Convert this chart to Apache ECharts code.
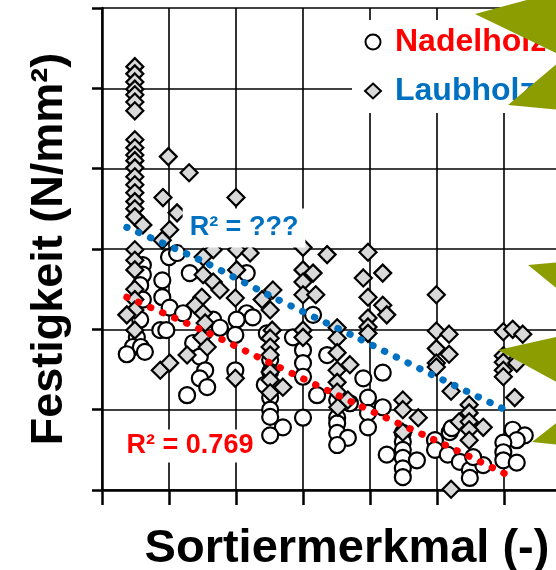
<!DOCTYPE html>
<html>
<head>
<meta charset="utf-8">
<script src="https://cdn.jsdelivr.net/npm/echarts@6/dist/echarts.min.js"></script>
<style>html,body{margin:0;padding:0;background:#fff;}#c{width:556px;height:570px;}</style>
</head>
<body>
<div id="c"></div>
<script>
// Nadelholz (circles) [Sortiermerkmal, Festigkeit]
const nadelholz = [
 [0.61,28.0],[0.61,26.8],[0.57,25.5],[0.61,23.7],[0.57,21.2],[0.52,19.0],[0.46,17.8],[0.58,17.8],[0.37,16.9],[0.64,17.2],
 [1.00,29.0],[1.12,29.5],[0.90,26.1],[0.90,24.0],[1.01,22.7],[0.87,19.9],[0.96,19.9],
 [1.31,27.0],[1.21,22.0],[1.66,21.2],[1.76,20.2],[1.36,18.3],[1.46,16.6],[1.54,14.9],[1.46,13.9],[1.57,12.8],[1.27,11.8],
 [2.16,27.0],[2.16,22.0],[2.01,21.2],[2.25,21.5],[1.99,19.3],[1.99,14.9],
 [2.46,19.5],[2.51,16.2],[2.51,14.7],[2.43,13.1],[2.51,11.5],[2.51,10.0],[2.51,9.1],[2.70,7.8],[2.51,6.8],
 [3.15,21.8],[2.85,19.0],[3.00,17.4],[3.00,15.8],[3.00,14.1],[3.21,11.8],[3.00,9.0],
 [3.36,16.8],[3.51,11.2],[3.70,10.8],[3.51,9.0],[3.51,8.3],[3.51,7.1],[3.67,6.5],[3.51,5.6],[3.90,13.9],
 [4.19,14.6],[3.97,11.5],[3.97,9.6],[3.97,7.8],[4.19,10.3],[4.25,4.4],
 [4.49,7.1],[4.49,6.0],[4.49,5.0],[4.49,4.0],[4.49,2.7],[4.49,1.6],[4.70,3.7],
 [4.97,6.2],[4.97,5.0],[5.19,7.2],[5.22,7.7],[5.16,4.4],[5.34,3.5],[5.49,2.5],[5.49,1.5],[5.69,3.1],[5.54,4.1],
 [6.13,7.5],[6.31,6.8],[6.19,6.2],[5.99,5.9],[5.99,4.7],[5.99,3.7],[6.19,3.4]
];
// Laubholz (diamonds)
const laubholz = [
 [0.49,52.7],[0.49,51.8],[0.49,50.8],[0.49,49.9],[0.49,49.2],[0.49,48.3],[0.49,47.2],[0.49,43.6],[0.49,42.6],[0.49,41.7],
 [0.49,41.0],[0.49,40.1],[0.49,39.0],[0.49,38.0],[0.49,37.0],[0.49,35.9],[0.49,35.0],[0.49,34.0],[0.61,33.0],[0.49,29.9],
 [0.49,28.6],[0.49,27.4],[0.49,25.0],[0.49,23.7],[0.49,22.4],[0.37,21.8],[0.49,19.9],
 [0.99,41.5],[1.30,39.5],[0.91,36.4],[1.12,34.5],[1.01,32.4],[0.90,31.1],[0.87,14.9],[1.01,15.8],
 [1.66,29.9],[1.51,29.0],[1.51,26.8],[1.66,25.9],[1.76,24.9],[1.49,24.0],[1.39,23.0],[1.51,22.0],[1.54,20.8],[1.49,19.0],[1.57,17.8],[1.27,16.8],
 [2.00,36.4],[2.01,29.9],[2.21,29.5],[2.01,27.4],[1.99,23.9],[1.99,13.9],
 [2.55,24.9],[2.51,22.4],[2.39,23.7],[2.54,19.9],[2.51,18.9],[2.51,17.8],[2.51,16.8],[2.51,14.7],[2.51,13.7],[2.51,12.1],[2.70,12.8],
 [3.00,30.2],[3.36,29.3],[3.00,27.4],[3.15,27.0],[3.00,25.9],[3.00,24.3],[3.19,24.3],[3.00,19.9],[3.00,19.0],
 [3.51,20.2],[3.51,18.9],[3.51,17.1],[3.70,15.6],[3.51,14.9],[3.51,13.4],[3.51,12.2],[3.52,10.3],[3.67,11.2],
 [3.97,29.6],[3.90,26.4],[4.19,27.0],[3.97,24.0],[4.19,23.0],[4.25,21.8],[3.97,21.4],[3.97,20.3],[3.97,19.5],
 [4.49,11.2],[4.49,10.0],[4.72,9.0],[4.49,7.2],
 [4.99,24.3],[4.99,19.8],[5.18,19.4],[4.99,17.6],[5.18,16.9],[4.99,15.8],[4.99,15.3],[5.21,12.3],
 [5.48,10.6],[5.48,9.6],[5.33,8.5],[5.48,8.5],[5.69,7.8],[5.48,7.5],[5.48,6.2],[5.21,0.1],
 [5.99,19.7],[6.13,20.0],[6.28,19.4],[5.99,16.7],[5.99,15.9],[5.99,14.9],[5.99,14.1],[6.19,15.8],[6.16,11.5]
];
// Trend lines
const trendNadel = [[0.37,24.0],[1.52,19.8],[2.49,15.9],[3.82,10.6],[4.97,6.2],[6.12,1.6]];
const trendLaub  = [[0.37,32.7],[1.52,28.4],[2.48,24.3],[3.82,18.9],[4.94,14.3],[6.09,9.7]];
const seriesNames = ['Nadelholz','Laubholz'];
const r2Labels = ['R² = ???','R² = 0.769'];
const axisNames = ['Sortiermerkmal (-)','Festigkeit (N/mm²)'];

const FONT = '"Liberation Sans", Arial, sans-serif';
const RED = '#ff0000', BLUE = '#0070c0', GREEN = '#8b9d00';

const chart = echarts.init(document.getElementById('c'), null, {renderer:'canvas'});
chart.setOption({
  animation:false,
  backgroundColor:'#fff',
  grid:{left:102, top:8, width:536, height:482, containLabel:false, outerBoundsMode:'none'},
  xAxis:{
    type:'value', min:0, max:8, interval:1,
    name:axisNames[0], nameLocation:'middle', nameGap:36,
    nameTextStyle:{fontSize:47, fontWeight:'bold', color:'#000', fontFamily:FONT, padding:[0,46,0,0]},
    axisLine:{lineStyle:{color:'#000', width:2.5}},
    axisTick:{show:true, inside:false, length:15, lineStyle:{color:'#000', width:2.5}},
    axisLabel:{show:false},
    splitLine:{show:true, lineStyle:{color:'#000', width:1.6}}
  },
  yAxis:{
    type:'value', min:0, max:60, interval:10,
    name:axisNames[1], nameLocation:'middle', nameGap:30,
    nameTextStyle:{fontSize:45, fontWeight:'bold', color:'#000', fontFamily:FONT},
    axisLine:{show:true, lineStyle:{color:'#000', width:2.5}},
    axisTick:{show:true, inside:false, length:10, lineStyle:{color:'#000', width:2.5}},
    axisLabel:{show:false},
    splitLine:{show:true, lineStyle:{color:'#000', width:1.6}}
  },
  legend:{
    orient:'vertical', left:352, top:20, padding:[6,12,6,12],
    backgroundColor:'#fff', itemWidth:16, itemHeight:15, itemGap:17,
    textStyle:{fontSize:32, fontWeight:'bold', fontFamily:FONT, padding:[0,0,0,9]},
    data:[
      {name:seriesNames[0], icon:'circle', textStyle:{color:RED}},
      {name:seriesNames[1], icon:'diamond', textStyle:{color:BLUE}}
    ]
  },
  series:[
    {name:seriesNames[0], type:'scatter', data:nadelholz, symbol:'circle', symbolSize:16, z:2,
     itemStyle:{color:'#fff', borderColor:'#000', borderWidth:2.2, opacity:1}},
    {name:seriesNames[1], type:'scatter', data:laubholz, symbol:'diamond', symbolSize:17, z:3,
     itemStyle:{color:'#d9d9d9', borderColor:'#000', borderWidth:2.2, opacity:1}},
    {name:'trendN', type:'line', data:trendNadel, symbol:'none', smooth:0.3, z:5, silent:true,
     lineStyle:{color:RED, width:7, type:[0.5,12.5], cap:'round'}},
    {name:'trendL', type:'line', data:trendLaub, symbol:'none', smooth:0.3, z:5, silent:true,
     lineStyle:{color:BLUE, width:7, type:[0.5,12.5], cap:'round'}}
  ],
  graphic:[
    {type:'text', x:244, y:228, z:10,
     style:{text:r2Labels[0], fill:BLUE, font:'bold 27px ' + FONT, align:'center', verticalAlign:'middle',
            backgroundColor:'#fff', padding:[6,7,6,7]}},
    {type:'text', x:190, y:446, z:10,
     style:{text:r2Labels[1], fill:RED, font:'bold 27px ' + FONT, align:'center', verticalAlign:'middle',
            backgroundColor:'#fff', padding:[3,6,3,6]}},
    {type:'polygon', z:100, shape:{points:[[475,14],[560,-9],[560,55]]}, style:{fill:GREEN}},
    {type:'polygon', z:100, shape:{points:[[508,105],[560,61],[560,110]]}, style:{fill:GREEN}},
    {type:'polygon', z:100, shape:{points:[[528,265],[560,262],[560,291]]}, style:{fill:GREEN}},
    {type:'polygon', z:100, shape:{points:[[498,350],[560,336],[560,384]]}, style:{fill:GREEN}},
    {type:'polygon', z:100, shape:{points:[[532,442],[560,420],[560,445]]}, style:{fill:GREEN}}
  ]
});
</script>
</body>
</html>
